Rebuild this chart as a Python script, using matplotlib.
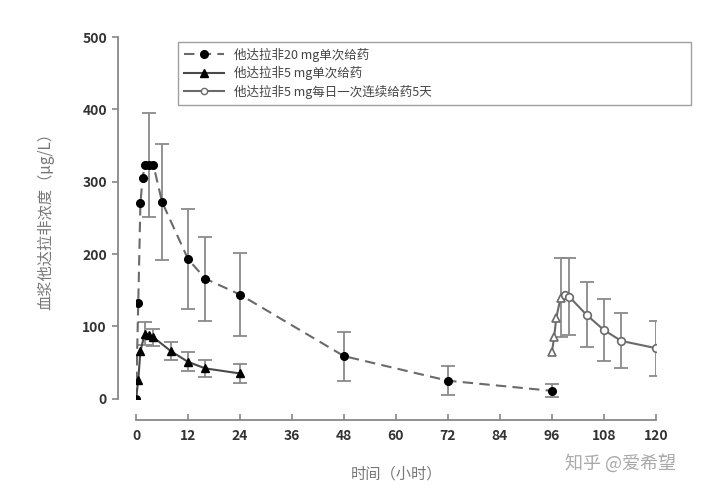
import matplotlib.pyplot as plt
import numpy as np

plt.rcParams['font.family'] = ['Noto Sans CJK SC', 'DejaVu Sans']

# 20 mg single dose
t20 = [0, 0.5, 1, 1.5, 2, 3, 4, 6, 12, 16, 24, 48, 72, 96]
c20 = [0, 132, 270, 305, 323, 323, 323, 272, 193, 166, 144, 59, 25, 11]
e20 = [0, 0, 0, 0, 0, 72, 0, 80, 69, 58, 57, 34, 20, 9]

# 5 mg single dose
t5 = [0, 0.5, 1, 2, 3, 4, 8, 12, 16, 24]
c5 = [0, 26, 66, 90, 88, 85, 66, 51, 42, 35]
e5 = [0, 0, 0, 16, 0, 12, 13, 13, 12, 13]

# 5 mg once daily for 5 days (day 5 profile)
tm = [96, 96.5, 97, 98, 99, 100, 104, 108, 112, 120]
cm = [65, 85, 112, 140, 143, 141, 116, 95, 80, 70]
em = [0, 0, 0, 55, 0, 53, 45, 43, 38, 38]
mk_m = ['^', '^', '^', '^', 'o', 'o', 'o', 'o', 'o', 'o']

labels = ['他达拉非20 mg单次给药', '他达拉非5 mg单次给药', '他达拉非5 mg每日一次连续给药5天']
xticks = [0, 12, 24, 36, 48, 60, 72, 84, 96, 108, 120]
yticks = [0, 100, 200, 300, 400, 500]

fig = plt.figure(figsize=(7.2, 5.01), dpi=100)
ax = fig.add_axes([0.189, 0.204, 0.722, 0.722])

ecol = '#8a8a8a'
lcol = '#6a6a6a'

def errs(t, c, e):
    t = np.array(t); c = np.array(c); e = np.array(e)
    m = e > 0
    ax.errorbar(t[m], c[m], yerr=e[m], fmt='none', ecolor=ecol, elinewidth=1.3,
                capsize=5, capthick=1.3, zorder=2)

errs(t20, c20, e20)
errs(t5, c5, e5)
errs(tm, cm, em)

h1, = ax.plot(t20, c20, ls=(0, (5, 3)), color=lcol, lw=1.5, marker='o', ms=5.5,
              mfc='black', mec='black', zorder=3)
h2, = ax.plot(t5, c5, ls='-', color='#4a4a4a', lw=1.5, marker='^', ms=5.5,
              mfc='black', mec='black', zorder=3)
h3, = ax.plot(tm, cm, ls='-', color=lcol, lw=1.5, zorder=3)
for x, y, m in zip(tm, cm, mk_m):
    ax.plot(x, y, marker=m, ms=5.5, mfc='white', mec=lcol, mew=1.2, ls='none', zorder=4)
h3l, = ax.plot([], [], ls='-', color=lcol, lw=1.5, marker='o', ms=4.5,
               mfc='white', mec=lcol)

ax.set_xlim(0, 120)
ax.set_ylim(0, 500)
ax.set_xticks(xticks)
ax.set_yticks(yticks)
for s in ['top', 'right']:
    ax.spines[s].set_visible(False)
ax.spines['left'].set_position(('outward', 13))
ax.spines['bottom'].set_position(('outward', 15))
ax.spines['left'].set_bounds(0, 500)
ax.spines['bottom'].set_bounds(0, 120)
for s in ['left', 'bottom']:
    ax.spines[s].set_color('#888888')
    ax.spines[s].set_linewidth(1.3)
ax.tick_params(axis='y', direction='out', length=4, color='#888888', width=1.2,
               labelsize=10, labelcolor='#333333', pad=4)
ax.tick_params(axis='x', direction='in', length=4, color='#888888', width=1.2,
               labelsize=10, labelcolor='#333333', pad=7)
for lab in ax.get_xticklabels() + ax.get_yticklabels():
    lab.set_fontweight('bold')

ax.set_xlabel('时间（小时）', fontsize=11, color='#777777', labelpad=16)
ax.set_ylabel('血浆他达拉非浓度（μg/L）', fontsize=11, color='#777777', labelpad=20)

leg = ax.legend([h1, h2, h3l], labels, loc='upper left',
                fontsize=9, frameon=True, fancybox=False, edgecolor='#888888',
                handlelength=3.2, borderpad=0.5, labelspacing=0.35,
                mode='expand')
leg.set_bbox_to_anchor((0.069, 0.80, 1.01, 0.205), transform=ax.transAxes)
leg.set_clip_on(False)
for t in leg.get_texts():
    t.set_color('#444444')

fig.text(0.785, 0.065, '知乎 @爱希望', fontsize=13, color='#aaaaaa')

fig.savefig('out.png', dpi=100)
